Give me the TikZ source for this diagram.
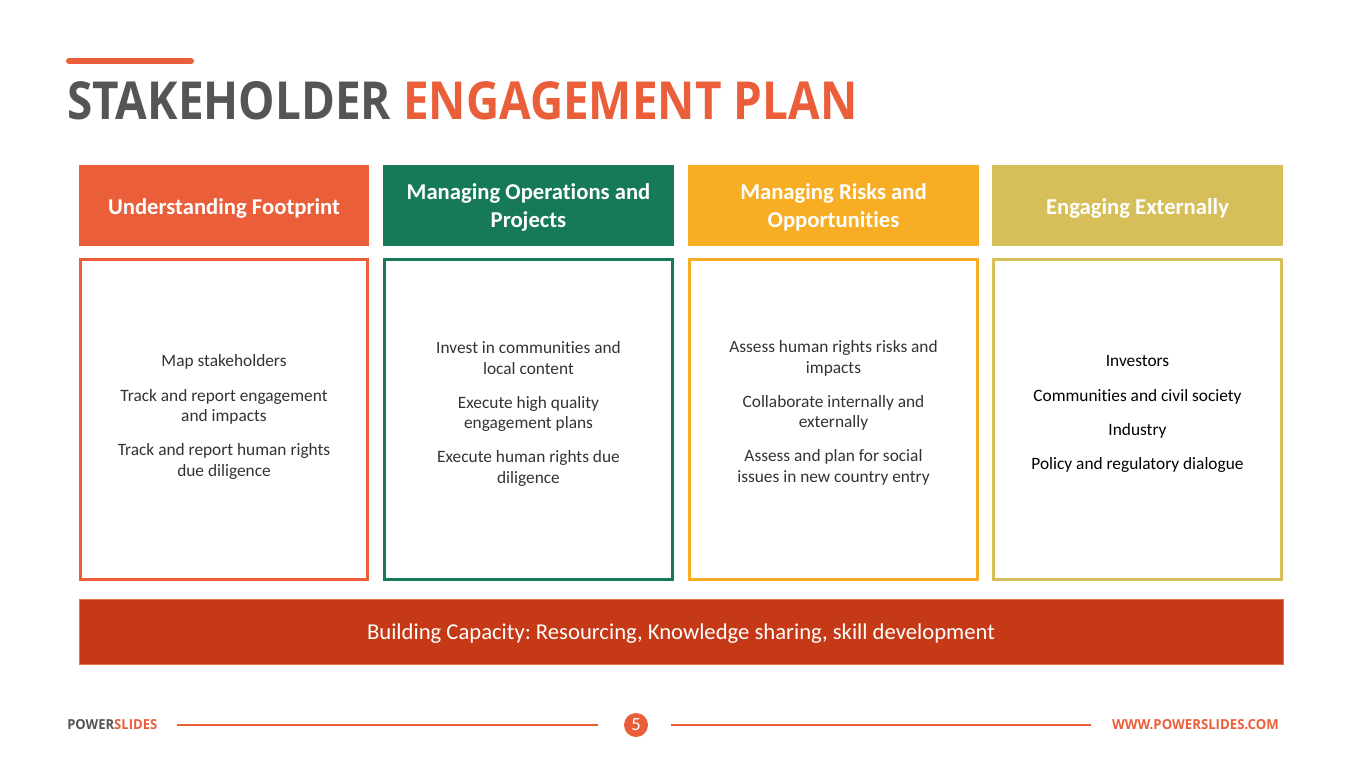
\documentclass[tikz,border=0pt]{standalone}
\usepackage{fontspec}
\setmainfont{Carlito}[RawFeature={-liga;-clig;-dlig}]
\newfontfamily\titlefont{Open Sans}
\usetikzlibrary{positioning}
\definecolor{cOrange}{HTML}{EB5E3A}
\definecolor{cGreen}{HTML}{177A57}
\definecolor{cYellow}{HTML}{F8AE24}
\definecolor{cOlive}{HTML}{D6BF5A}
\definecolor{cBar}{HTML}{C53916}
\definecolor{cBarEdge}{HTML}{E5704E}
\definecolor{cTitle}{HTML}{555555}
\definecolor{cText}{HTML}{333333}
\frenchspacing
\begin{document}
\begin{tikzpicture}[x=0.75pt,y=-0.75pt,
  headtext/.style={text=white,font=\bfseries\fontsize{17}{21}\selectfont,align=center,inner sep=0},
  bodytext/.style={text=cText,font=\fontsize{13}{15.3}\selectfont,align=center,inner sep=0},
  footline/.style={draw=cOrange,line width=0.8pt}
]
\useasboundingbox (0,0) rectangle (1365,767);
\fill[white] (0,0) rectangle (1365,767);

% accent line
\draw[cOrange,line width=4.5pt,line cap=round] (69,61) -- (191,61);

% title
\node[anchor=base west,inner sep=0,text=cTitle] (title) at (67,120)
  {\resizebox{592.5pt}{28.5pt}{\titlefont\bfseries STAKEHOLDER \textcolor{cOrange}{ENGAGEMENT PLAN}}};

% header boxes
\fill[cOrange] (79,165) rectangle (369,246);
\fill[cGreen] (383,165) rectangle (674,246);
\fill[cYellow] (688,165) rectangle (979,246);
\fill[cOlive] (992,165) rectangle (1283,246);

\node[headtext] (h1) at (224,208) {Understanding Footprint};
\node[headtext] (h2) at (528.5,207) {Managing Operations and\\Projects};
\node[headtext] (h3) at (833.5,207) {Managing Risks and\\Opportunities};
\node[headtext] (h4) at (1137.5,208) {Engaging Externally};

% content boxes
\draw[cOrange,line width=2.25pt] (80.5,259.5) rectangle (367.5,579.5);
\draw[cGreen,line width=2.25pt] (384.5,259.5) rectangle (672.5,579.5);
\draw[cYellow,line width=2.25pt] (689.5,259.5) rectangle (977.5,579.5);
\draw[cOlive,line width=2.25pt] (993.5,259.5) rectangle (1281.5,579.5);

\node[bodytext] (b1) at (224,417) {Map stakeholders\\[10.3pt]Track and report engagement\\and impacts\\[10.3pt]Track and report human rights\\due diligence};
\node[bodytext] (b2) at (528.5,414) {Invest in communities and\\local content\\[10.3pt]Execute high quality\\engagement plans\\[10.3pt]Execute human rights due\\diligence};
\node[bodytext] (b3) at (833.5,413) {Assess human rights risks and\\impacts\\[10.3pt]Collaborate internally and\\externally\\[10.3pt]Assess and plan for social\\issues in new country entry};
\node[bodytext,text=black] (b4) at (1137.5,414) {Investors\\[10.3pt]Communities and civil society\\[10.3pt]Industry\\[10.3pt]Policy and regulatory dialogue};

% bottom bar
\draw[fill=cBar,draw=cBarEdge,line width=0.75pt] (79,599) rectangle (1283,664);
\node[text=white,font=\fontsize{17}{20}\selectfont,inner sep=0] (bar) at (681,634) {Building Capacity: Resourcing, Knowledge sharing, skill development};

% footer
\node[anchor=base west,inner sep=0,text=cTitle] (logo) at (67,729)
  {\resizebox{67.5pt}{7.5pt}{\titlefont\bfseries POWER\textcolor{cOrange}{SLIDES}}};
\node[anchor=base east,inner sep=0,text=cOrange] (url) at (1279,729)
  {\resizebox{125pt}{7.5pt}{\titlefont\bfseries WWW.POWERSLIDES.COM}};
\node[circle,fill=cOrange,minimum size=18pt,inner sep=0,text=white,font=\fontsize{14}{14}\selectfont] (pg) at (636,725) {5};
\coordinate (l1a) at (177,725);
\coordinate (l1b) at (598,725);
\coordinate (l2a) at (671,725);
\coordinate (l2b) at (1091,725);
\draw[footline] (l1a) -- (l1b);
\draw[footline] (l2a) -- (l2b);
\end{tikzpicture}
\end{document}
